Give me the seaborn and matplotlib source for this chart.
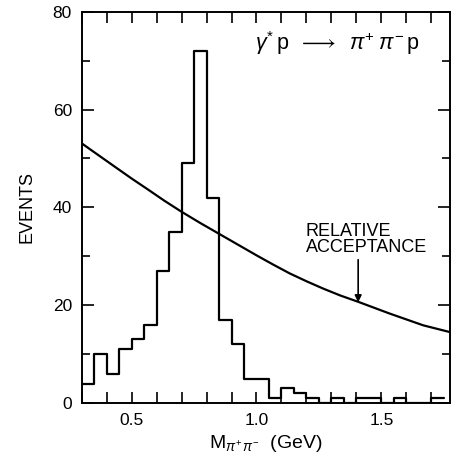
import numpy as np
import pandas as pd
import matplotlib
matplotlib.use("Agg")
import matplotlib.pyplot as plt
import seaborn as sns
from matplotlib.ticker import MultipleLocator

# ---- data ----
bin_edges = [0.30, 0.35, 0.40, 0.45, 0.50, 0.55, 0.60, 0.65, 0.70, 0.75,
             0.80, 0.85, 0.90, 0.95, 1.00, 1.05, 1.10, 1.15, 1.20, 1.25,
             1.30, 1.35, 1.40, 1.45, 1.50, 1.55, 1.60, 1.65, 1.70, 1.75]
events = [4, 10, 6, 11, 13, 16, 27, 35, 49, 72,
          42, 17, 12, 5, 5, 1, 3, 2, 1, 0,
          1, 0, 1, 1, 0, 1, 0, 0, 1]

acc_mass = [0.30, 0.333, 0.383, 0.433, 0.50, 0.567, 0.63, 0.70, 0.775, 0.85, 0.925,
            1.00, 1.067, 1.133, 1.20, 1.267, 1.335, 1.407, 1.47, 1.533, 1.60, 1.667, 1.775]
acc_value = [53.1, 51.9, 50.1, 48.3, 45.9, 43.6, 41.4, 39.1, 36.8, 34.6, 32.4,
             30.2, 28.3, 26.5, 24.9, 23.4, 22.0, 20.7, 19.5, 18.3, 17.1, 15.9, 14.5]

x_ticks = [0.5, 1.0, 1.5]
x_ticklabels = ["0.5", "1.0", "1.5"]
y_ticks = [0, 20, 40, 60, 80]

sns.set_style("ticks")
plt.rcParams["font.family"] = ["Liberation Sans", "DejaVu Sans"]
plt.rcParams["mathtext.fontset"] = "custom"
plt.rcParams["mathtext.rm"] = "Liberation Sans"
plt.rcParams["mathtext.it"] = "Liberation Sans:italic"
for k in ["text.color", "axes.labelcolor", "xtick.color", "ytick.color", "axes.edgecolor"]:
    plt.rcParams[k] = "black"

fig = plt.figure(figsize=(4.51, 4.66), dpi=100)
ax = fig.add_axes([0.181, 0.135, 0.998 - 0.181, 0.975 - 0.135])

centers = [(bin_edges[i] + bin_edges[i + 1]) / 2 for i in range(len(events))]
hist_df = pd.DataFrame({"mass": centers, "events": events})
sns.histplot(data=hist_df, x="mass", weights="events", bins=bin_edges,
             element="step", fill=False, color="black", linewidth=1.6, ax=ax)

acc_df = pd.DataFrame({"mass": acc_mass, "acc": acc_value})
sns.lineplot(data=acc_df, x="mass", y="acc", color="black", linewidth=1.6, ax=ax)

ax.set_xlim(0.30, 1.775)
ax.set_ylim(0, 80)
ax.set_xticks(x_ticks)
ax.set_xticklabels(x_ticklabels)
ax.set_yticks(y_ticks)
ax.xaxis.set_minor_locator(MultipleLocator(0.1))
ax.yaxis.set_minor_locator(MultipleLocator(10))
ax.tick_params(axis="x", which="both", direction="in", top=True, bottom=True,
               length=8, width=1.2, labelsize=12.5, pad=7)
ax.tick_params(axis="y", which="major", direction="in", left=True, right=True,
               length=8.5, width=1.2, labelsize=12.5, pad=7)
ax.tick_params(axis="y", which="minor", direction="in", left=True, right=True,
               length=6, width=1.2)
for s in ax.spines.values():
    s.set_visible(True)
    s.set_linewidth(1.4)
    s.set_color("black")

ax.set_xlabel(r"M$_{\pi^{+}\,\pi^{-}}$  (GeV)", fontsize=14, labelpad=4)
ax.set_ylabel("EVENTS", fontsize=13, labelpad=12)

ax.text(1.655, 73.5, r"$\gamma^{*}\,\mathrm{p}\;\;\longrightarrow\;\;\pi^{+}\;\pi^{-}\,\mathrm{p}$",
        fontsize=15.5, ha="right", va="center")
ax.text(1.197, 36.9, "RELATIVE\nACCEPTANCE", fontsize=13, ha="left", va="top",
        linespacing=0.95)
ax.annotate("", xy=(1.407, 20.6), xytext=(1.407, 29.3),
            arrowprops=dict(arrowstyle="-|>", color="black", lw=1.2,
                            mutation_scale=10, shrinkA=0, shrinkB=0))

fig.savefig("out.png", dpi=100)
